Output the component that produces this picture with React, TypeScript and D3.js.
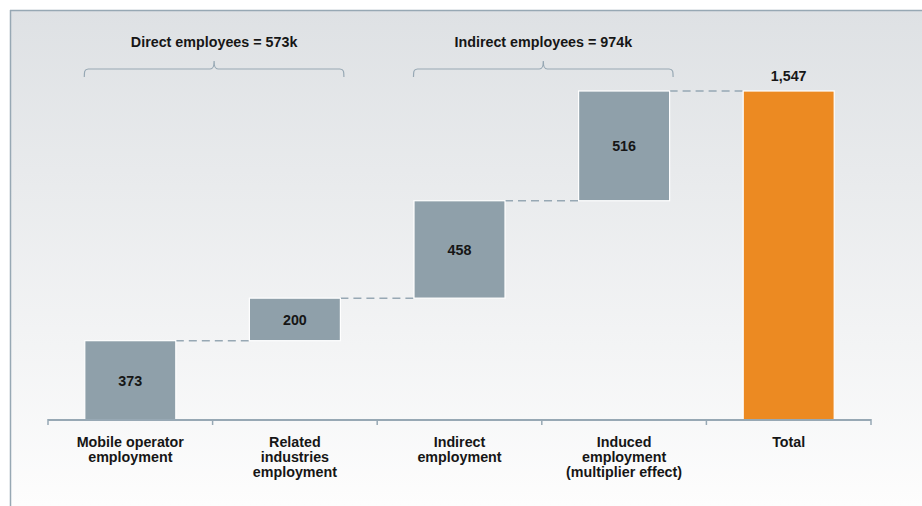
import React from "react";
import * as d3 from "d3";

const categories = [
  "Mobile operator\nemployment",
  "Related\nindustries\nemployment",
  "Indirect\nemployment",
  "Induced\nemployment\n(multiplier effect)",
  "Total",
];
const values = [373, 200, 458, 516, 1547];
const isTotal = [false, false, false, false, true];
const valueLabels = ["373", "200", "458", "516", "1,547"];
const groupLabels = ["Direct employees = 573k", "Indirect employees = 974k"];
const groupRanges = [
  [0, 1],
  [2, 3],
];

const W = 922;
const H = 506;
const FONT = "'Liberation Sans', Arial, sans-serif";
const GRAY = "#8fa0aa";
const ORANGE = "#ec8a22";
const LINE = "#97a8b4";
const TEXT = "#161616";

export default function App() {
  const x = d3
    .scaleBand<number>()
    .domain(d3.range(categories.length))
    .range([48, 871])
    .paddingInner(0.447)
    .paddingOuter(0.2235);
  const y = d3.scaleLinear().domain([0, 1547]).range([420, 91]);
  const bw = x.bandwidth();
  const step = x.step();

  // waterfall cumulative
  let acc = 0;
  const bars = values.map((v, i) => {
    let y0: number, y1: number;
    if (isTotal[i]) {
      y0 = 0;
      y1 = v;
    } else {
      y0 = acc;
      y1 = acc + v;
      acc = y1;
    }
    return { i, v, y0, y1 };
  });

  const tickXs = d3.range(categories.length + 1).map((k) => 48 + k * step);

  const bracketPath = (x0: number, x1: number) => {
    const by = 69;
    const cx = (x0 + x1) / 2;
    return `M${x0},77 C${x0},72 ${x0},${by} ${x0 + 4},${by} L${cx - 4},${by} C${cx - 1},${by} ${cx},${by - 2} ${cx},${by - 8} C${cx},${by - 2} ${cx + 1},${by} ${cx + 4},${by} L${x1 - 4},${by} C${x1},${by} ${x1},72 ${x1},77`;
  };

  return (
    <svg
      width={W}
      height={H}
      style={{ position: "absolute", left: 0, top: 0, display: "block" }}
      fontFamily={FONT}
    >
      <defs>
        <linearGradient id="bg" x1="0" y1="0" x2="0" y2="1">
          <stop offset="0" stopColor="#dee1e4" />
          <stop offset="1" stopColor="#fdfdfd" />
        </linearGradient>
      </defs>
      <rect x={0} y={0} width={W} height={H} fill="#ffffff" />
      <rect x={10} y={10} width={W - 10} height={H - 10} fill="url(#bg)" />
      <line x1={10} y1={10.5} x2={W} y2={10.5} stroke={LINE} strokeWidth={1.5} />
      <line x1={10.5} y1={10} x2={10.5} y2={H} stroke={LINE} strokeWidth={1.5} />

      {/* brackets */}
      {groupRanges.map(([a, b], gi) => {
        const x0 = (x(a) as number) - 0.5;
        const x1 = (x(b) as number) + bw + 3.5;
        return (
          <g key={gi}>
            <path d={bracketPath(x0, x1)} fill="none" stroke={LINE} strokeWidth={1.2} />
            <text
              x={(x0 + x1) / 2}
              y={47}
              textAnchor="middle"
              fontSize={14.3}
              fontWeight="bold"
              fill={TEXT}
            >
              {groupLabels[gi]}
            </text>
          </g>
        );
      })}

      {/* connectors */}
      {bars.slice(0, -1).map((b, k) => {
        const xs = (x(b.i) as number) + bw;
        const xe = x(bars[k + 1].i) as number;
        return (
          <line
            key={"c" + k}
            x1={xs}
            x2={xe}
            y1={y(b.y1)}
            y2={y(b.y1)}
            stroke={LINE}
            strokeWidth={1.5}
            strokeDasharray="8,5"
          />
        );
      })}

      {/* bars */}
      {bars.map((b) => (
        <g key={"b" + b.i}>
          <rect
            x={x(b.i)}
            y={y(b.y1)}
            width={bw}
            height={y(b.y0) - y(b.y1)}
            fill={isTotal[b.i] ? ORANGE : GRAY}
            stroke="#ffffff"
            strokeWidth={1.2}
          />
          {isTotal[b.i] ? (
            <text
              x={(x(b.i) as number) + bw / 2}
              y={y(b.y1) - 10}
              textAnchor="middle"
              fontSize={14.3}
              fontWeight="bold"
              fill={TEXT}
            >
              {valueLabels[b.i]}
            </text>
          ) : (
            <text
              x={(x(b.i) as number) + bw / 2}
              y={(y(b.y0) + y(b.y1)) / 2 + 5.5}
              textAnchor="middle"
              fontSize={14.3}
              fontWeight="bold"
              fill={TEXT}
            >
              {valueLabels[b.i]}
            </text>
          )}
        </g>
      ))}

      {/* axis */}
      <line x1={48} x2={871} y1={420} y2={420} stroke={LINE} strokeWidth={2} />
      {tickXs.map((tx, k) => (
        <line key={"t" + k} x1={tx} x2={tx} y1={419} y2={425} stroke={LINE} strokeWidth={1.5} />
      ))}
      {categories.map((c, i) => (
        <text
          key={"l" + i}
          x={(x(i) as number) + bw / 2}
          y={446.5}
          textAnchor="middle"
          fontSize={14.3}
          fontWeight="bold"
          fill={TEXT}
        >
          {c.split("\n").map((ln, j) => (
            <tspan key={j} x={(x(i) as number) + bw / 2} dy={j === 0 ? 0 : 15}>
              {ln}
            </tspan>
          ))}
        </text>
      ))}
    </svg>
  );
}
